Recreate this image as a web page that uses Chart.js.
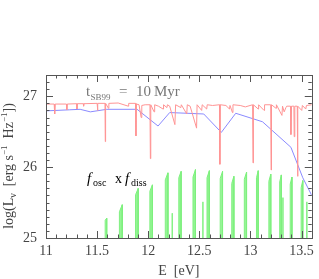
<!DOCTYPE html>
<html><head><meta charset="utf-8">
<script src="https://cdn.jsdelivr.net/npm/chart.js@4.4.1/dist/chart.umd.min.js"></script>
<style>html,body{margin:0;padding:0;background:#fff;}canvas{display:block;}</style>
</head><body>
<canvas id="c" width="319" height="279"></canvas>
<script>
// ---- data ----
const xTicks = [11, 11.5, 12, 12.5, 13, 13.5];
const xTickLabels = ["11", "11.5", "12", "12.5", "13", "13.5"];
const yTicks = [25, 26, 27];
const yTickLabels = ["25", "26", "27"];

// red: starburst spectrum with absorption lines
const redE = [11.00, 11.080, 11.085, 11.090, 11.200, 11.204, 11.208, 11.300, 11.303, 11.307, 11.365, 11.368, 11.372,
  11.500, 11.504, 11.508, 11.577, 11.580, 11.583, 11.611, 11.615, 11.706, 11.805, 11.809, 11.876, 11.880, 11.884,
  11.910, 11.931, 11.937, 11.970, 12.017, 12.021, 12.025, 12.057, 12.063, 12.100, 12.145, 12.150, 12.183, 12.188,
  12.210, 12.261, 12.268, 12.319, 12.324, 12.377, 12.382, 12.410, 12.473, 12.478, 12.523, 12.528, 12.572, 12.577,
  12.630, 12.697, 12.701, 12.705, 12.760, 12.795, 12.800, 12.824, 12.829, 12.900, 12.950, 13.021, 13.025, 13.029,
  13.076, 13.080, 13.133, 13.138, 13.198, 13.202, 13.206, 13.250, 13.254, 13.308, 13.314, 13.330, 13.347, 13.355,
  13.392, 13.396, 13.402, 13.425, 13.428, 13.434, 13.458, 13.461, 13.465, 13.502, 13.508, 13.541, 13.548, 13.600];
const redL = [26.89, 26.89, 26.75, 26.89, 26.89, 26.81, 26.89, 26.895, 26.82, 26.895, 26.895, 26.86, 26.895,
  26.90, 26.80, 26.90, 26.90, 26.36, 26.90, 26.83, 26.90, 26.905, 26.86, 26.90, 26.90, 26.44, 26.89,
  26.88, 26.70, 26.87, 26.88, 26.88, 26.12, 26.88, 26.78, 26.88, 26.86, 26.82, 26.88, 26.84, 26.88,
  26.86, 26.60, 26.88, 26.84, 26.88, 26.75, 26.88, 26.86, 26.55, 26.88, 26.80, 26.88, 26.82, 26.88,
  26.87, 26.88, 26.04, 26.88, 26.87, 26.82, 26.87, 26.77, 26.88, 26.87, 26.85, 26.88, 26.06, 26.88,
  26.82, 26.88, 26.80, 26.88, 26.88, 25.96, 26.88, 26.83, 26.88, 26.73, 26.86, 26.78, 26.84, 26.86,
  26.86, 26.46, 26.86, 26.86, 26.43, 26.86, 26.86, 25.87, 26.86, 26.80, 26.87, 26.82, 26.87, 26.88];

// blue: smoothed spectrum
const blueE = [11.00, 11.232, 11.334, 11.434, 11.595, 11.891, 12.096, 12.210, 12.543, 12.715, 12.856, 13.118, 13.396, 13.512, 13.600];
const blueL = [26.794, 26.809, 26.816, 26.780, 26.816, 26.816, 26.580, 26.770, 26.750, 26.490, 26.760, 26.640, 26.280, 25.850, 25.600];

// green: f_osc x f_diss bands (left/right edge energy and height)
const bandE1 = [11.579, 11.718, 11.876, 12.016, 12.167, 12.235, 12.299, 12.438, 12.535, 12.575, 12.704, 12.817, 12.940, 13.059, 13.180, 13.286, 13.318, 13.389, 13.496, 13.552];
const bandE2 = [11.594, 11.746, 11.902, 12.041, 12.193, 12.235, 12.322, 12.462, 12.535, 12.598, 12.727, 12.838, 12.962, 13.076, 13.199, 13.302, 13.318, 13.406, 13.512, 13.552];
const bandL1 = [25.25, 25.37, 25.61, 25.66, 25.82, 25.35, 25.85, 25.86, 25.51, 25.85, 25.84, 25.77, 25.83, 25.85, 25.80, 25.79, 25.57, 25.76, 25.71, 25.51];
const bandL2 = [25.28, 25.47, 25.70, 25.75, 25.92, 25.35, 25.94, 25.965, 25.51, 25.95, 25.94, 25.87, 25.93, 25.95, 25.90, 25.89, 25.57, 25.86, 25.81, 25.51];

const X_MIN = 11, X_MAX = 13.6, Y_MIN = 25, Y_MAX = 27.3;

// ---- build ----
const redPts = redE.map((e, i) => ({x: e, y: redL[i]}));
const bluePts = blueE.map((e, i) => ({x: e, y: blueL[i]}));
const greenPts = [{x: X_MIN, y: Y_MIN}];
bandE1.forEach((e, i) => {
  greenPts.push({x: e, y: Y_MIN}, {x: e, y: bandL1[i]}, {x: bandE2[i], y: bandL2[i]}, {x: bandE2[i], y: Y_MIN});
});
greenPts.push({x: X_MAX, y: Y_MIN});

const SERIF = '"Liberation Serif", "DejaVu Serif", serif';
const AXIS = '#555';

function drawParts(ctx, x, y, parts, measureOnly) {
  let cx = x;
  parts.forEach(p => {
    ctx.font = (p.it ? 'italic ' : '') + p.s + 'px ' + SERIF;
    if (!measureOnly) ctx.fillText(p.t, cx, y + (p.dy || 0));
    cx += ctx.measureText(p.t).width + (p.gap || 0);
  });
  return cx - x;
}

const framePlugin = {
  id: 'frame',
  afterDatasetsDraw(chart) {
    const ctx = chart.ctx, a = chart.chartArea;
    const xs = chart.scales.x, ys = chart.scales.y;
    ctx.save();
    ctx.strokeStyle = AXIS;
    ctx.lineWidth = 1;
    ctx.strokeRect(Math.round(a.left) + 0.5, Math.round(a.top) + 0.5, Math.round(a.right - a.left), Math.round(a.bottom - a.top));
    ctx.beginPath();
    for (let k = 0; k <= 26; k++) {
      const v = X_MIN + k * 0.1;
      const px = Math.round(xs.getPixelForValue(v)) + 0.5;
      const len = (k % 5 === 0) ? 7 : 3.5;
      ctx.moveTo(px, a.bottom); ctx.lineTo(px, a.bottom - len);
      ctx.moveTo(px, a.top); ctx.lineTo(px, a.top + len);
    }
    for (let k = 0; k <= 23; k++) {
      const v = Y_MIN + k * 0.1;
      const py = Math.round(ys.getPixelForValue(v)) + 0.5;
      const len = (k % 10 === 0) ? 7 : 3.5;
      ctx.moveTo(a.left, py); ctx.lineTo(a.left + len, py);
      ctx.moveTo(a.right, py); ctx.lineTo(a.right - len, py);
    }
    ctx.stroke();

    ctx.textBaseline = 'alphabetic';
    ctx.textAlign = 'left';
    // t_SB99 = 10 Myr
    ctx.fillStyle = '#777';
    drawParts(ctx, 86, 96, [{t: 't', s: 15}]);
    drawParts(ctx, 90.5, 99.5, [{t: 'SB99', s: 9}]);
    drawParts(ctx, 119, 96, [{t: '=', s: 15}]);
    drawParts(ctx, 136, 96, [{t: '10', s: 15}]);
    drawParts(ctx, 154, 96, [{t: 'Myr', s: 15}]);
    // f_osc x f_diss
    ctx.fillStyle = '#000';
    drawParts(ctx, 87, 183, [{t: 'f', s: 15, it: true}]);
    drawParts(ctx, 93, 186, [{t: 'osc', s: 10}]);
    drawParts(ctx, 115, 183, [{t: 'x', s: 14}]);
    drawParts(ctx, 125, 183, [{t: 'f', s: 15, it: true}]);
    drawParts(ctx, 131, 186, [{t: 'diss', s: 10}]);

    // axis titles
    ctx.fillStyle = '#444';
    ctx.textAlign = 'left';
    const xt = [{t: 'E  [eV]', s: 14}];
    const wx = drawParts(ctx, 0, 0, xt, true);
    drawParts(ctx, (a.left + a.right) / 2 - wx / 2, 275, xt);

    const yt = [{t: 'log(L', s: 14}, {t: 'ν', s: 10, dy: 3}, {t: '  [erg s', s: 14}, {t: '−1', s: 9, dy: -6},
      {t: '  Hz', s: 14}, {t: '−1', s: 9, dy: -6}, {t: '])', s: 14}];
    const wy = drawParts(ctx, 0, 0, yt, true);
    ctx.translate(13, 166);
    ctx.rotate(-Math.PI / 2);
    drawParts(ctx, -wy / 2, 0, yt);
    ctx.restore();
  }
};

new Chart(document.getElementById('c'), {
  type: 'line',
  data: {
    datasets: [
      {data: redPts, borderColor: '#ff9494', borderWidth: 1, pointRadius: 0, tension: 0, fill: false},
      {data: bluePts, borderColor: '#8a8aff', borderWidth: 1, pointRadius: 0, tension: 0, fill: false},
      {data: greenPts, borderColor: '#7ef07e', backgroundColor: '#96f596', borderWidth: 1, pointRadius: 0, tension: 0,
        fill: {value: Y_MIN},
        segment: {borderColor: c => (c.p0.parsed.y === Y_MIN && c.p1.parsed.y === Y_MIN) ? 'rgba(0,0,0,0)' : undefined}}
    ]
  },
  options: {
    responsive: false,
    animation: false,
    events: [],
    layout: {padding: {top: 75, right: 5, left: 0, bottom: 0}},
    plugins: {legend: {display: false}, tooltip: {enabled: false}},
    scales: {
      x: {
        type: 'linear', min: X_MIN, max: X_MAX,
        afterBuildTicks: s => { s.ticks = xTicks.map(v => ({value: v})); },
        afterFit: s => { s.height = 41; },
        grid: {display: false, drawTicks: false},
        border: {display: false},
        ticks: {autoSkip: false, maxRotation: 0, padding: 5, color: '#444',
          font: {family: SERIF, size: 14},
          callback: (v) => { const i = xTicks.indexOf(v); return i >= 0 ? xTickLabels[i] : ''; }}
      },
      y: {
        type: 'linear', min: Y_MIN, max: Y_MAX,
        afterBuildTicks: s => { s.ticks = yTicks.map(v => ({value: v})); },
        afterFit: s => { s.width = 46; },
        grid: {display: false, drawTicks: false},
        border: {display: false},
        ticks: {autoSkip: false, padding: 9, color: '#444',
          font: {family: SERIF, size: 14},
          callback: (v) => { const i = yTicks.indexOf(v); return i >= 0 ? yTickLabels[i] : ''; }}
      }
    }
  },
  plugins: [framePlugin]
});
</script>
</body></html>
